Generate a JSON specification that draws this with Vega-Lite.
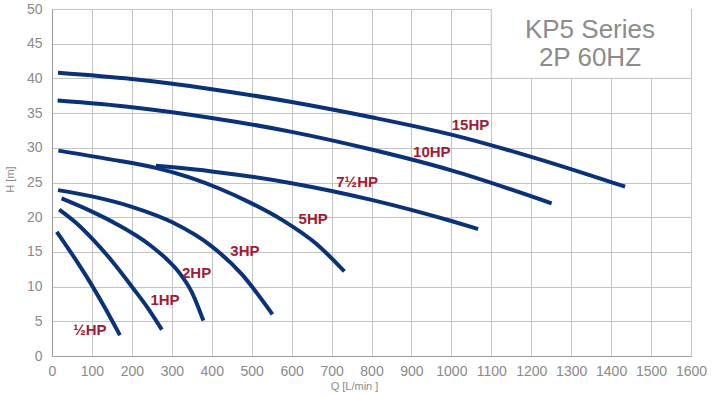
{
  "$schema": "https://vega.github.io/schema/vega-lite/v6.json",
  "width": 639,
  "height": 347,
  "autosize": "none",
  "padding": {"left": 52, "top": 9, "right": 29, "bottom": 41},
  "background": "white",
  "config": {
    "font": "Liberation Sans",
    "view": {"stroke": "#9a9a9a", "strokeWidth": 1}
  },
  "datasets": {
    "curves": [
      {"model": "15HP", "q": 15, "h": 40.8},
      {"model": "15HP", "q": 200, "h": 39.9},
      {"model": "15HP", "q": 400, "h": 38.45},
      {"model": "15HP", "q": 600, "h": 36.6},
      {"model": "15HP", "q": 800, "h": 34.4},
      {"model": "15HP", "q": 1000, "h": 31.9},
      {"model": "15HP", "q": 1200, "h": 28.7},
      {"model": "15HP", "q": 1435, "h": 24.4},
      {"model": "10HP", "q": 14, "h": 36.8},
      {"model": "10HP", "q": 200, "h": 35.85},
      {"model": "10HP", "q": 400, "h": 34.3},
      {"model": "10HP", "q": 600, "h": 32.3},
      {"model": "10HP", "q": 800, "h": 29.75},
      {"model": "10HP", "q": 1000, "h": 26.75},
      {"model": "10HP", "q": 1251, "h": 22.0},
      {"model": "7½HP", "q": 260, "h": 27.4},
      {"model": "7½HP", "q": 400, "h": 26.6},
      {"model": "7½HP", "q": 600, "h": 24.9},
      {"model": "7½HP", "q": 800, "h": 22.5},
      {"model": "7½HP", "q": 1000, "h": 19.45},
      {"model": "7½HP", "q": 1067, "h": 18.3},
      {"model": "5HP", "q": 16, "h": 29.6},
      {"model": "5HP", "q": 150, "h": 28.3},
      {"model": "5HP", "q": 260, "h": 27.1},
      {"model": "5HP", "q": 346, "h": 25.7},
      {"model": "5HP", "q": 420, "h": 24.1},
      {"model": "5HP", "q": 496, "h": 22.1},
      {"model": "5HP", "q": 579, "h": 19.5},
      {"model": "5HP", "q": 663, "h": 16.1},
      {"model": "5HP", "q": 732, "h": 12.2},
      {"model": "3HP", "q": 15, "h": 23.9},
      {"model": "3HP", "q": 100, "h": 23.0},
      {"model": "3HP", "q": 200, "h": 21.5},
      {"model": "3HP", "q": 300, "h": 19.3},
      {"model": "3HP", "q": 400, "h": 15.8},
      {"model": "3HP", "q": 475, "h": 11.8},
      {"model": "3HP", "q": 552, "h": 6.0},
      {"model": "2HP", "q": 24, "h": 22.7},
      {"model": "2HP", "q": 100, "h": 20.8},
      {"model": "2HP", "q": 162, "h": 19.0},
      {"model": "2HP", "q": 245, "h": 16.0},
      {"model": "2HP", "q": 290, "h": 13.8},
      {"model": "2HP", "q": 320, "h": 11.9},
      {"model": "2HP", "q": 350, "h": 9.2},
      {"model": "2HP", "q": 379, "h": 5.1},
      {"model": "1HP", "q": 18, "h": 21.1},
      {"model": "1HP", "q": 60, "h": 19.2},
      {"model": "1HP", "q": 104, "h": 16.7},
      {"model": "1HP", "q": 150, "h": 13.7},
      {"model": "1HP", "q": 204, "h": 9.7},
      {"model": "1HP", "q": 240, "h": 6.9},
      {"model": "1HP", "q": 275, "h": 3.8},
      {"model": "½HP", "q": 12, "h": 17.9},
      {"model": "½HP", "q": 58, "h": 14.0},
      {"model": "½HP", "q": 87, "h": 11.4},
      {"model": "½HP", "q": 129, "h": 7.3},
      {"model": "½HP", "q": 170, "h": 3.0}
    ],
    "labels": [
      {"label": "15HP", "q": 1048, "h": 33.3},
      {"label": "10HP", "q": 951, "h": 29.4},
      {"label": "7½HP", "q": 764, "h": 25.1},
      {"label": "5HP", "q": 654, "h": 19.8},
      {"label": "3HP", "q": 483, "h": 15.1},
      {"label": "2HP", "q": 362, "h": 11.9},
      {"label": "1HP", "q": 283, "h": 8.0},
      {"label": "½HP", "q": 95, "h": 3.7}
    ]
  },
  "encoding": {
    "x": {
      "type": "quantitative",
      "scale": {"domain": [0, 1600], "nice": false},
      "axis": {
        "title": "Q [L/min ]",
        "values": [0, 100, 200, 300, 400, 500, 600, 700, 800, 900, 1000, 1100, 1200, 1300, 1400, 1500, 1600],
        "format": "d",
        "grid": true,
        "gridColor": "#c4c4c4",
        "gridOpacity": 1,
        "ticks": false,
        "domainColor": "#9a9a9a",
        "labelColor": "#8a8a8a",
        "labelFontSize": 14,
        "labelPadding": 8,
        "labelFlush": false,
        "titleFontSize": 11,
        "titleFontWeight": "normal",
        "titleColor": "#8a8a8a",
        "titleX": 302,
        "titleY": 30,
        "titleBaseline": "middle",
        "titleAlign": "center"
      }
    },
    "y": {
      "type": "quantitative",
      "scale": {"domain": [0, 50], "nice": false},
      "axis": {
        "title": "H [m]",
        "values": [0, 5, 10, 15, 20, 25, 30, 35, 40, 45, 50],
        "format": "d",
        "grid": true,
        "gridColor": "#c4c4c4",
        "gridOpacity": 1,
        "ticks": false,
        "domainColor": "#9a9a9a",
        "labelColor": "#8a8a8a",
        "labelFontSize": 14,
        "labelPadding": 10,
        "titleFontSize": 11,
        "titleFontWeight": "normal",
        "titleColor": "#8a8a8a",
        "titleX": -42,
        "titleY": 170,
        "titleBaseline": "middle",
        "titleAlign": "center"
      }
    }
  },
  "layer": [
    {
      "data": {"values": [{}]},
      "mark": {"type": "rect", "fill": "white", "stroke": null},
      "encoding": {
        "x": {"datum": 1100},
        "x2": {"datum": 1600},
        "y": {"datum": 40},
        "y2": {"datum": 50}
      }
    },
    {
      "data": {"values": [{}]},
      "mark": {"type": "rule", "color": "#c4c4c4", "strokeWidth": 1},
      "encoding": {
        "x": {"datum": 1100},
        "y": {"datum": 40},
        "y2": {"datum": 50}
      }
    },
    {
      "data": {"values": [{}]},
      "mark": {"type": "rule", "color": "#c4c4c4", "strokeWidth": 1},
      "encoding": {
        "x": {"datum": 1100},
        "x2": {"datum": 1600},
        "y": {"datum": 40}
      }
    },
    {
      "data": {"name": "curves"},
      "mark": {"type": "line", "interpolate": "monotone", "color": "#0a3278", "strokeWidth": 4, "strokeCap": "butt"},
      "encoding": {
        "x": {"field": "q", "type": "quantitative"},
        "y": {"field": "h", "type": "quantitative"},
        "detail": {"field": "model"}
      }
    },
    {
      "data": {"name": "labels"},
      "mark": {"type": "text", "color": "#a01b35", "fontSize": 15, "fontWeight": "bold", "align": "center", "baseline": "middle"},
      "encoding": {
        "x": {"field": "q", "type": "quantitative"},
        "y": {"field": "h", "type": "quantitative"},
        "text": {"field": "label"}
      }
    },
    {
      "data": {"values": [{}]},
      "mark": {"type": "text", "color": "#8c8c8c", "fontSize": 26, "align": "center", "baseline": "alphabetic"},
      "encoding": {
        "x": {"datum": 1347},
        "y": {"datum": 45.8},
        "text": {"value": "KP5 Series"}
      }
    },
    {
      "data": {"values": [{}]},
      "mark": {"type": "text", "color": "#8c8c8c", "fontSize": 26, "align": "center", "baseline": "alphabetic"},
      "encoding": {
        "x": {"datum": 1347},
        "y": {"datum": 41.8},
        "text": {"value": "2P 60HZ"}
      }
    }
  ]
}
